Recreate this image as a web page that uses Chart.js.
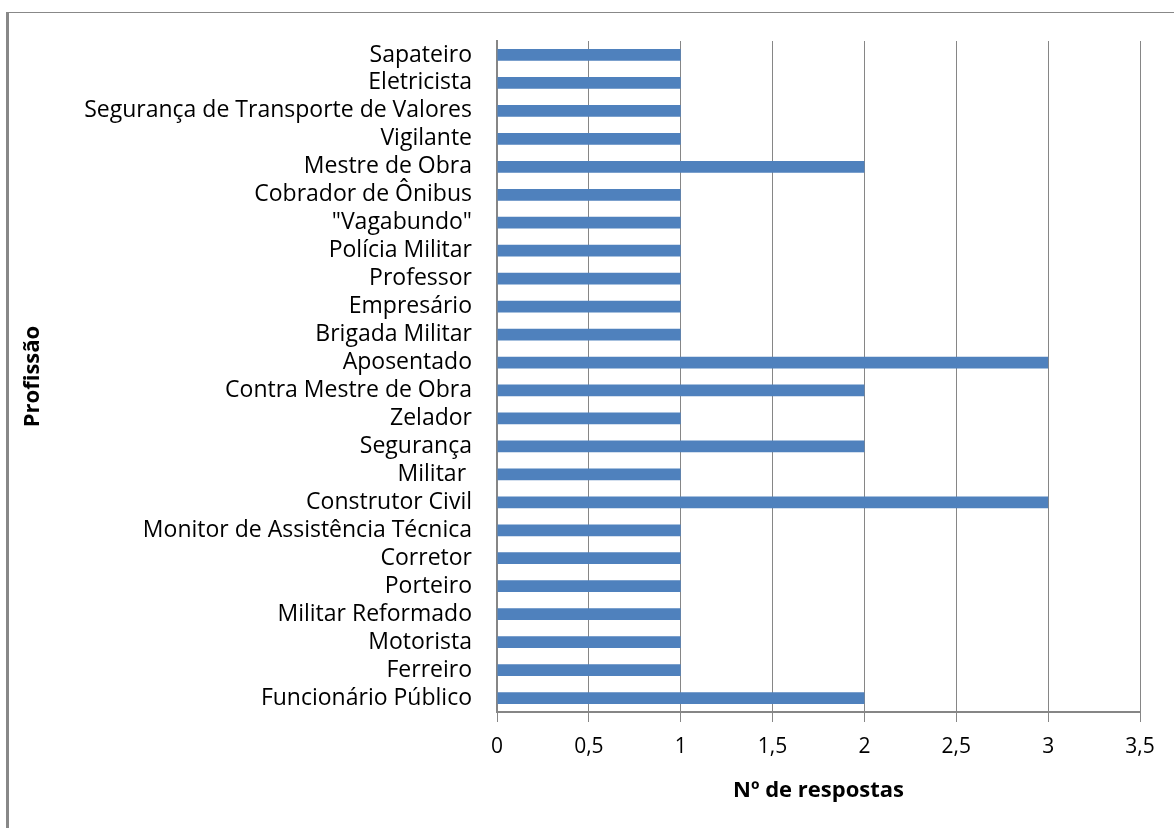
<!DOCTYPE html>
<html>
<head>
<meta charset="utf-8">
<script src="https://cdn.jsdelivr.net/npm/chart.js@4.4.1/dist/chart.umd.min.js"></script>
<style>
  html, body { margin: 0; padding: 0; background: #ffffff; }
  #wrap { position: relative; width: 1174px; height: 828px; overflow: hidden; }
  #frame {
    position: absolute; left: 6px; top: 12px; width: 1200px; height: 840px;
    border-left: 3px solid #888888; border-top: 1px solid #888888;
    box-sizing: border-box; pointer-events: none;
  }
  canvas { position: absolute; left: 0; top: 0; }
</style>
</head>
<body>
<div id="wrap">
  <div id="frame"></div>
  <canvas id="chart" width="1174" height="828"></canvas>
</div>
<script>
// Professions, listed top to bottom
const categories = [
  'Sapateiro',
  'Eletricista',
  'Segurança de Transporte de Valores',
  'Vigilante',
  'Mestre de Obra',
  'Cobrador de Ônibus',
  '"Vagabundo"',
  'Polícia Militar',
  'Professor',
  'Empresário',
  'Brigada Militar',
  'Aposentado',
  'Contra Mestre de Obra',
  'Zelador',
  'Segurança',
  'Militar ',
  'Construtor Civil',
  'Monitor de Assistência Técnica',
  'Corretor',
  'Porteiro',
  'Militar Reformado',
  'Motorista',
  'Ferreiro',
  'Funcionário Público'
];

// Number of answers per profession
const respostas = [1, 1, 1, 1, 2, 1, 1, 1, 1, 1, 1, 3, 2, 1, 2, 1, 3, 1, 1, 1, 1, 1, 1, 2];

// Value axis tick labels (0 to 3.5 in steps of 0.5)
const xTickLabels = ['0', '0,5', '1', '1,5', '2', '2,5', '3', '3,5'];

const xTitle = 'Nº de respostas';
const yTitle = 'Profissão';

const FONT = '"Open Sans", Lato, sans-serif';
const GRID = '#868686';

new Chart(document.getElementById('chart'), {
  type: 'bar',
  data: {
    labels: categories,
    datasets: [{
      data: respostas,
      backgroundColor: '#4F81BD',
      borderWidth: 0,
      categoryPercentage: 1,
      barPercentage: 0.42
    }]
  },
  options: {
    indexAxis: 'y',
    responsive: false,
    animation: false,
    layout: { padding: { top: 41, right: 34, bottom: 0, left: 0 } },
    plugins: {
      legend: { display: false },
      tooltip: { enabled: false }
    },
    scales: {
      x: {
        min: 0,
        max: 3.5,
        ticks: {
          stepSize: 0.5,
          color: '#000000',
          padding: 12,
          font: { family: FONT, size: 21 },
          callback: (v) => xTickLabels[Math.round(v / 0.5)]
        },
        grid: {
          color: GRID,
          lineWidth: 1,
          drawTicks: true,
          tickLength: 10,
          tickColor: GRID
        },
        border: { display: true, color: GRID, width: 2 },
        title: {
          display: true,
          text: xTitle,
          color: '#000000',
          font: { family: FONT, size: 22, weight: 'bold' },
          padding: { top: 0, bottom: 24 }
        },
        afterFit: (scale) => { scale.height = 116; }
      },
      y: {
        ticks: {
          color: '#000000',
          padding: 25,
          font: { family: FONT, size: 23 },
          autoSkip: false
        },
        grid: { display: false, drawTicks: false, tickLength: 0 },
        border: { display: true, color: GRID, width: 2 },
        title: {
          display: true,
          text: yTitle,
          color: '#000000',
          font: { family: FONT, size: 22, weight: 'bold' },
          padding: { top: 20, bottom: 0 }
        },
        afterFit: (scale) => { scale.width = 497; }
      }
    }
  }
});
</script>
</body>
</html>
